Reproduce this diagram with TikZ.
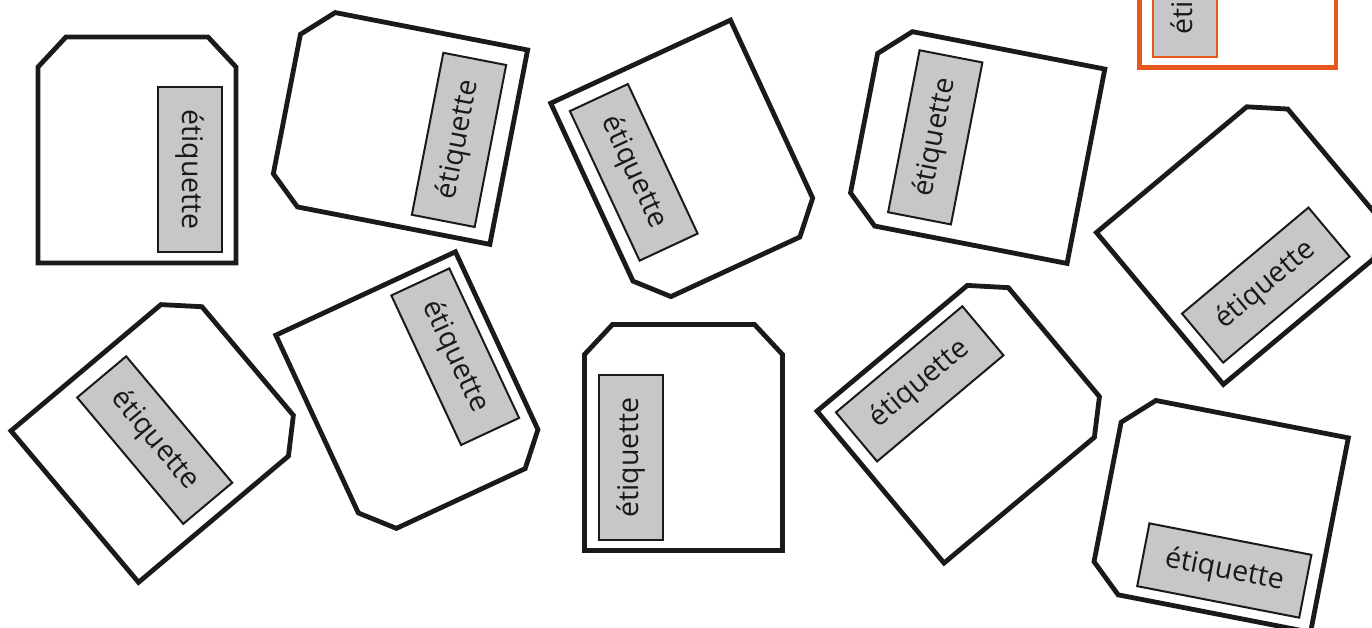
\documentclass[tikz,border=0pt]{standalone}
\usepackage{fontspec}
\setmainfont{Open Sans}
\definecolor{ink}{HTML}{1A1A1A}
\definecolor{labelgray}{HTML}{C6C7C9}
\definecolor{orng}{HTML}{E8581C}
\tikzset{
  cardline/.style={draw=ink, line width=4.8pt, fill=white},
  card/.pic={\draw[cardline] (-99,-113) -- (99,-113) -- (99,83) -- (71,113) -- (-71,113) -- (-99,83) -- cycle;},
  tag/.style={draw=ink, line width=2pt, fill=labelgray, minimum width=165pt, minimum height=64pt,
    inner sep=0pt, font=\fontsize{28.5}{34}\selectfont, text=ink},
}
\begin{document}
\begin{tikzpicture}[x=1pt,y=1pt]
\useasboundingbox (0,0) rectangle (1372,627);
\begin{scope}
\clip (0,0) rectangle (1372,627);
% row 1
\pic (c1) at (137,477) {card};
\node[tag, rotate=-90] (t1) at (190,457.5) {étiquette};
\pic[rotate=79] (c2) at (397.8,501.4) {card};
\node[tag, rotate=79] (t2) at (459,487.1) {étiquette};
\pic[rotate=-155.2] (c3) at (688,462.75) {card};
\node[tag, rotate=-65] (t3) at (633.75,454.65) {étiquette};
\pic[rotate=79] (c4) at (975,482.3) {card};
\node[tag, rotate=79] (t4) at (935.25,489.65) {étiquette};
\pic[rotate=-50.1] (c5) at (1246.6,391) {card};
\node[tag, rotate=40] (t5) at (1265.8,341.9) {étiquette};
% row 2
\pic[rotate=-49.9] (c6) at (161.2,193.2) {card};
\node[tag, rotate=-50] (t6) at (154.7,186.9) {étiquette};
\pic[rotate=-155.1] (c7) at (413.2,231) {card};
\node[tag, rotate=-65] (t7) at (455.2,270.3) {étiquette};
\pic (c10) at (683.5,189.5) {card};
\node[tag, rotate=90] (t10) at (630.5,169.5) {étiquette};
\pic[rotate=-50.1] (c8) at (967.2,212.4) {card};
\node[tag, rotate=40] (t8) at (919.7,243.15) {étiquette};
\pic[rotate=79] (c9) at (1218.5,113.5) {card};
\node[tag, rotate=-11] (t9) at (1224.3,56.5) {étiquette};
% orange example, cut by the frame
\draw[orng, line width=4.5pt] (1139.5,559.5) coordinate (o1) rectangle (1336,760) coordinate (o2);
\node[tag, draw=orng, rotate=90] (t0) at (1184.5,652.5) {étiquette};
\end{scope}
\end{tikzpicture}
\end{document}
